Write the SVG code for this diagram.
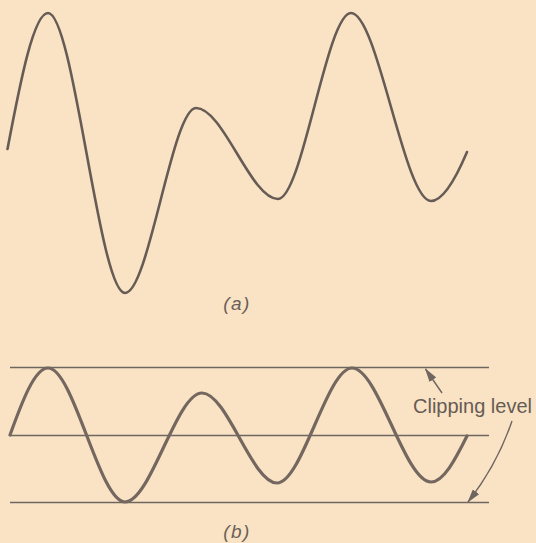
<svg xmlns="http://www.w3.org/2000/svg" width="536" height="543" viewBox="0 0 536 543">
  <defs>
    <style>
      .wave-a { fill: none; stroke: #675c55; stroke-width: 2.6; stroke-linecap: round; stroke-linejoin: round; }
      .wave-b { fill: none; stroke: #74675f; stroke-width: 3.2; stroke-linecap: round; stroke-linejoin: round; }
      .level { fill: none; stroke: #6f6660; stroke-width: 1.6; }
      .conn { fill: none; stroke: #6f6660; stroke-width: 1.4; }
      .cap { font-family: "Liberation Sans", Arial, sans-serif; font-style: italic; font-size: 19px; fill: #6a5f58; letter-spacing: 1.5px; }
      .lbl { font-family: "Liberation Sans", Arial, sans-serif; font-size: 20px; fill: #665b54; }
    </style>
    <marker id="arrow" viewBox="0 0 14 8" refX="13" refY="4" markerWidth="14" markerHeight="8" markerUnits="userSpaceOnUse" orient="auto">
      <path d="M0,0 L14,4 L0,8 Z" fill="#6f6660"/>
    </marker>
  </defs>
  <rect width="536" height="543" fill="#f9e3c4"/>

  <g id="panel-a">
    <path class="wave-a" d="M 7.5 149 C 20.7 79.4, 33.9 13, 48 13 C 73.7 13, 99.3 293, 125 293 C 148.7 293, 172.3 108, 196 108 C 223.3 108, 250.7 199, 278 199 C 302.3 199, 326.7 13, 351 13 C 377.7 13, 404.3 201, 431 201 C 443 201, 456 178, 467 152"/>
    <text class="cap" x="237" y="310" text-anchor="middle">(a)</text>
  </g>

  <g id="panel-b">
    <line class="level" id="top-level" x1="10" y1="367.5" x2="489" y2="367.5"/>
    <line class="level" id="mid-line" x1="10" y1="435.5" x2="489" y2="435.5"/>
    <line class="level" id="bottom-level" x1="10" y1="502.5" x2="489" y2="502.5"/>
    <path class="wave-b" d="M 10 435 C 22.4 400.7, 34.8 368, 48 368 C 73.7 368, 99.3 502, 125 502 C 150.7 502, 176.3 393, 202 393 C 227 393, 252 483, 277 483 C 302 483, 327 368, 352 368 C 378.3 368, 404.7 482, 431 482 C 443.5 482, 455.3 459.5, 467 436"/>
    <text class="cap" x="237" y="538" text-anchor="middle">(b)</text>
  </g>

  <g id="label-clipping">
    <text class="lbl" x="413" y="413">Clipping level</text>
  </g>

  <g id="connectors">
    <path class="conn" d="M 442 393 L 425.5 369" marker-end="url(#arrow)"/>
    <path class="conn" d="M 512 421 Q 497 465 468 502" marker-end="url(#arrow)"/>
  </g>
</svg>
